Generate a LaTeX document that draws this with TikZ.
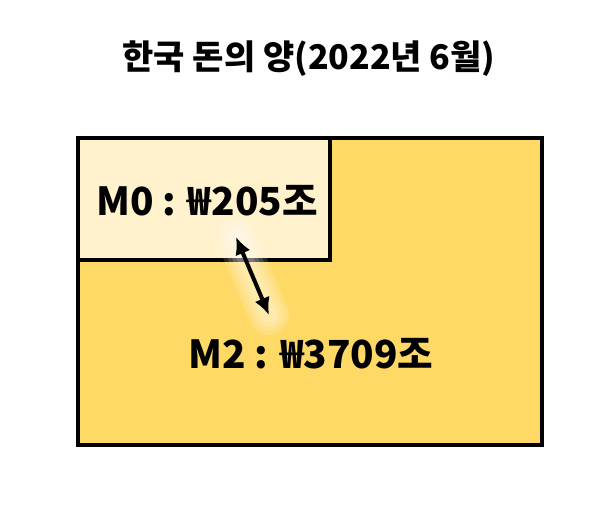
\documentclass[tikz,border=0pt]{standalone}
\usepackage{fontspec}
\newfontfamily\kr{Noto Sans CJK KR}
\usetikzlibrary{arrows.meta}
\definecolor{mtwo}{HTML}{FFD966}
\definecolor{mzero}{HTML}{FFF2CC}
\tikzset{
    box/.style={draw, line width=2.3pt},
    big/.style={font=\kr\bfseries\fontsize{29}{34}\selectfont},
    glow/.style={white, line cap=round, opacity=0.15}
}
\begin{document}
\begin{tikzpicture}[x=0.75pt,y=-0.75pt]
    \useasboundingbox (0,0) rectangle (603,505);
    \node[font=\kr\bfseries\fontsize{25.5}{30}\selectfont] (title) at (309,59) {한국 돈의 양(2022년 6월)};
    \draw[box, fill=mtwo] (78,138) rectangle (542,445);
    \draw[box, fill=mzero] (78,138) rectangle (330,260);
    \node[big] (m0) at (207,201) {M0 : ₩205조};
    \node[big] (m2) at (311,354) {M2 : ₩3709조};
    % arrow with glow
    \coordinate (top) at (236,237);
    \coordinate (bot) at (269,315);
    \foreach \w in {30,24,18,12}
        \draw[glow, line width=\w pt] (top) -- (bot);
    \draw[{Latex[length=13pt,width=12pt]}-{Latex[length=13pt,width=12pt]}, line width=3pt] (top) -- (bot);
\end{tikzpicture}
\end{document}
